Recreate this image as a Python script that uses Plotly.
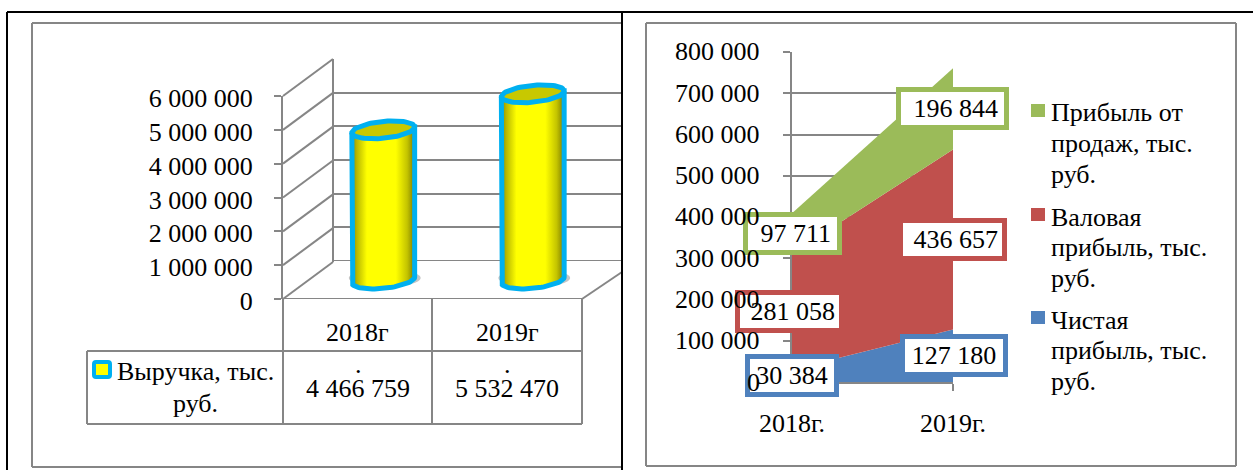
import numpy as np
import plotly.graph_objects as go

W, H = 1253, 470

# ---------- data ----------
years_left = ["2018г", "2019г"]
revenue = [4466759, 5532470]
revenue_labels = ["4 466 759", "5 532 470"]
revenue_name = ["Выручка, тыс.", "руб."]
left_ticks = [0, 1000000, 2000000, 3000000, 4000000, 5000000, 6000000]
left_ticktext = ["0", "1 000 000", "2 000 000", "3 000 000", "4 000 000", "5 000 000", "6 000 000"]

years_right = ["2018г.", "2019г."]
net_profit = [30384, 127180]
gross_profit = [281058, 436657]
sales_profit = [97711, 196844]
net_labels = ["30 384", "127 180"]
gross_labels = ["281 058", "436 657"]
sales_labels = ["97 711", "196 844"]
right_ticks = [0, 100000, 200000, 300000, 400000, 500000, 600000, 700000, 800000]
right_ticktext = ["0", "100 000", "200 000", "300 000", "400 000", "500 000", "600 000", "700 000", "800 000"]
legend_sales = ["Прибыль от", "продаж, тыс.", "руб."]
legend_gross = ["Валовая", "прибыль, тыс.", "руб."]
legend_net = ["Чистая", "прибыль, тыс.", "руб."]

# ---------- style ----------
FONT = "Liberation Serif"
FS = 26
GREY = "#868686"
BLUE, RED, GREEN = "#4f81bd", "#c0504d", "#9bbb59"
CYAN = "#00b0f0"


def px(x):
    return x / W


def py(y):
    return 1 - y / H


def dom_x(a, b):
    return [px(a), px(b)]


def dom_y(bottom, top):
    return [py(bottom), py(top)]


fig = go.Figure()
shapes = []
ann = []


def line(x0, y0, x1, y1, color=GREY, width=2):
    shapes.append(dict(type="line", xref="paper", yref="paper", x0=px(x0), y0=py(y0), x1=px(x1), y1=py(y1),
                       line=dict(color=color, width=width), layer="below"))


def text(x, y, s, anchor="center", size=FS):
    ann.append(dict(xref="paper", yref="paper", x=px(x), y=py(y), text=s, showarrow=False,
                    xanchor=anchor, yanchor="middle", font=dict(family=FONT, size=size, color="black")))


# ---------- frames ----------
line(32, 23, 622, 23); line(32, 23, 32, 467); line(32, 467, 622, 467)
line(646, 23, 1236, 23); line(1236, 23, 1236, 466); line(1236, 466, 646, 466); line(646, 466, 646, 23)
for seg in [(7, 12, 1253, 12), (7, 12, 7, 470), (622, 12, 622, 470)]:
    shapes.append(dict(type="line", xref="paper", yref="paper", x0=px(seg[0]), y0=py(seg[1]), x1=px(seg[2]),
                       y1=py(seg[3]), line=dict(color="black", width=2), layer="above"))

# ---------- left chart: walls ----------
for v in left_ticks:
    front = 299 - v / 6000000 * 203
    line(283, front, 333, front - 37)
line(582, 299, 622, 272)
line(333, 59, 333, 262)
# table
line(283, 299, 283, 424); line(432, 299, 432, 424); line(582, 299, 582, 424)
line(87, 351, 582, 351); line(87, 424, 582, 424); line(87, 351, 87, 424)

# front wall axis baseline
fig.add_trace(go.Scatter(x=[0, 1], y=[0, 0], mode="lines", line=dict(color=GREY, width=2), xaxis="x", yaxis="y",
                         showlegend=False, hoverinfo="skip"))
# back wall baseline
fig.add_trace(go.Scatter(x=[0, 1], y=[0, 0], mode="lines", line=dict(color=GREY, width=2), xaxis="x2", yaxis="y2",
                         showlegend=False, hoverinfo="skip"))

# ---------- left chart: cylinders ----------
HALF_W = 0.21
SEMI = 250000
TILT = 85000
t_front = np.linspace(np.pi, 2 * np.pi, 40)
t_full = np.linspace(0, 2 * np.pi, 80)
for i, v in enumerate(revenue):
    # shadow
    fig.add_trace(go.Scatter(x=i + 0.01 + (HALF_W + 0.03) * np.cos(t_full),
                             y=SEMI * 1.05 * np.sin(t_full) + 90000,
                             mode="none", fill="toself", fillcolor="rgba(110,110,110,0.4)",
                             xaxis="x3", yaxis="y3", showlegend=False, hoverinfo="skip"))
    xb = i + HALF_W * np.cos(t_front)
    yb = 30000 + SEMI * np.sin(t_front) + TILT * np.cos(t_front)
    bx = np.concatenate([[i - HALF_W], xb, [i + HALF_W, i - HALF_W]])
    by = np.concatenate([[v - TILT], yb, [v + TILT, v - TILT]])
    fig.add_trace(go.Scatter(x=bx, y=by, mode="lines", fill="toself",
                             fillgradient=dict(type="horizontal",
                                               colorscale=[[0, "#8a8a00"], [0.08, "#b8b800"], [0.24, "#ffff00"],
                                                           [0.7, "#ffff00"], [0.88, "#c4c400"], [1, "#7a7a00"]]),
                             line=dict(color=CYAN, width=5), xaxis="x3", yaxis="y3",
                             showlegend=False, hoverinfo="skip"))
    tx = i + HALF_W * np.cos(t_full)
    ty = v + SEMI * np.sin(t_full) + TILT * np.cos(t_full)
    fig.add_trace(go.Scatter(x=tx, y=ty, mode="lines", fill="toself", fillcolor="#c8c800",
                             line=dict(color=CYAN, width=5), xaxis="x3", yaxis="y3",
                             showlegend=False, hoverinfo="skip"))

# table text
for cx, yr, lab in zip([357.5, 507], years_left, revenue_labels):
    text(cx, 332, yr)
    text(cx, 388, lab)
    text(cx + 0.5, 364, ".")
text(195, 371, revenue_name[0])
text(195, 403, revenue_name[1])
shapes.append(dict(type="path", xref="paper", yref="paper",
                   path=f"M {px(96)} {py(362)} H {px(108)} Q {px(110)} {py(362)} {px(110)} {py(364)} V {py(375)} "
                        f"Q {px(110)} {py(377)} {px(108)} {py(377)} H {px(96)} Q {px(94)} {py(377)} {px(94)} {py(375)} "
                        f"V {py(364)} Q {px(94)} {py(362)} {px(96)} {py(362)} Z",
                   fillcolor="#ffff00", line=dict(color=CYAN, width=4), layer="above"))

# ---------- right chart: stacked areas ----------
for vals, name, col in [(net_profit, "Чистая прибыль, тыс. руб.", BLUE),
                        (gross_profit, "Валовая прибыль, тыс. руб.", RED),
                        (sales_profit, "Прибыль от продаж, тыс. руб.", GREEN)]:
    fig.add_trace(go.Scatter(x=years_right, y=vals, mode="none", stackgroup="one", fillcolor=col, name=name,
                             xaxis="x4", yaxis="y4", showlegend=False, hoverinfo="skip"))

# data labels at the centre of each band
box_w = [[94, 108], [109, 109], [99, 113]]
box_shift = [[0, 1], [-2.5, 0], [0.5, 0]]
lead = ["", "&nbsp;", "&nbsp;"]
base = [0, 0]
for k, (vals, labels, col) in enumerate([(net_profit, net_labels, BLUE),
                                         (gross_profit, gross_labels, RED),
                                         (sales_profit, sales_labels, GREEN)]):
    for i in range(2):
        ann.append(dict(xref="x4", yref="y4", x=i, y=base[i] + vals[i] / 2, text=lead[k] + labels[i],
                        showarrow=False, xanchor="center", yanchor="middle", width=box_w[k][i] - 12, height=31,
                        align="center", valign="middle", bgcolor="white", bordercolor=col, borderwidth=5,
                        borderpad=1, xshift=box_shift[k][i], font=dict(family=FONT, size=FS, color="black")))
        base[i] += vals[i]

# y tick labels of the right chart drawn over the label boxes, as in the reference
for v, s in zip(right_ticks, right_ticktext):
    ann.append(dict(xref="paper", yref="y4", x=px(762), y=v, text=s, showarrow=False, xanchor="right",
                    yanchor="middle", font=dict(family=FONT, size=FS, color="black")))

# legend
for top, lines_, col in [(113, legend_sales, GREEN), (217, legend_gross, RED), (320, legend_net, BLUE)]:
    shapes.append(dict(type="rect", xref="paper", yref="paper", x0=px(1031), x1=px(1045), y0=py(top - 9),
                       y1=py(top + 4), fillcolor=col, line=dict(width=0), layer="above"))
    for k, s in enumerate(lines_):
        text(1049, top + k * 30.5, s, anchor="left")

tick_font = dict(family=FONT, size=FS, color="black")
fig.update_layout(
    width=W, height=H, margin=dict(l=0, r=0, t=0, b=0, autoexpand=False), paper_bgcolor="white",
    plot_bgcolor="rgba(0,0,0,0)",
    showlegend=False, shapes=shapes, annotations=ann,
    xaxis=dict(domain=dom_x(283, 582), range=[0, 1], visible=True, showticklabels=False, ticks="", showgrid=False,
               zeroline=False, showline=False, automargin=False),
    yaxis=dict(domain=dom_y(299, 96), range=[0, 6000000], tickvals=left_ticks, ticktext=left_ticktext,
               tickfont=tick_font, ticks="outside", ticklen=7, tickwidth=2, tickcolor=GREY, showline=True,
               linecolor=GREY, linewidth=2, showgrid=False, zeroline=False, ticklabelstandoff=16, ticklabelshift=2,
               anchor="x", automargin=False),
    xaxis2=dict(domain=dom_x(333, 622), range=[0, 1], visible=False, anchor="y2", automargin=False),
    yaxis2=dict(domain=dom_y(261, 59), range=[0, 6000000], tickvals=left_ticks, showticklabels=False, ticks="",
                showgrid=True, gridcolor=GREY, gridwidth=2, zeroline=False, showline=False, anchor="x2",
                automargin=False),
    xaxis3=dict(domain=dom_x(308.5, 607.5), range=[-0.5, 1.5], visible=False, anchor="y3", automargin=False),
    yaxis3=dict(domain=dom_y(281 + 203 / 6, 78), range=[-1000000, 6000000], visible=False, anchor="x3",
                automargin=False),
    xaxis4=dict(domain=dom_x(792, 953), type="category", range=[0, 1], categoryorder="array",
                categoryarray=years_right, tickfont=tick_font, ticks="outside", ticklen=7, tickwidth=2,
                tickcolor=GREY, showline=True, linecolor=GREY, linewidth=2, showgrid=False, zeroline=False,
                ticklabelstandoff=10, anchor="y4", automargin=False),
    yaxis4=dict(domain=dom_y(382, 52), range=[0, 800000], tickvals=right_ticks, showticklabels=False,
                ticks="outside", ticklen=7, tickwidth=2, tickcolor=GREY, showline=True, linecolor=GREY, linewidth=2,
                showgrid=True, gridcolor=GREY, gridwidth=2, zeroline=False, anchor="x4", automargin=False),
)

fig.write_html("out.html", config=dict(displayModeBar=False),
               post_script="document.body.style.margin='0';document.body.style.overflow='hidden';")
